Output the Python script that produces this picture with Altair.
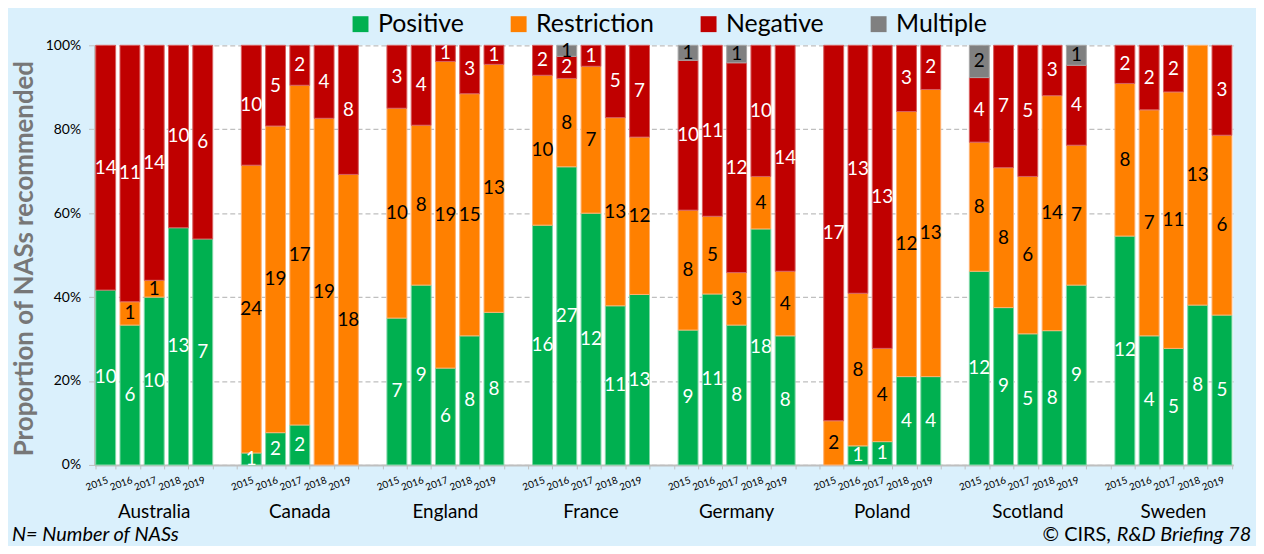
import altair as alt
import pandas as pd

countries = ["Australia", "Canada", "England", "France", "Germany", "Poland", "Scotland", "Sweden"]
years = ["2015", "2016", "2017", "2018", "2019"]
categories = ["Positive", "Restriction", "Negative", "Multiple"]
cat_colors = ["#00B050", "#FF8000", "#C00000", "#808080"]

positive = [
    [10, 6, 10, 13, 7],
    [1, 2, 2, 0, 0],
    [7, 9, 6, 8, 8],
    [16, 27, 12, 11, 13],
    [9, 11, 8, 18, 8],
    [0, 1, 1, 4, 4],
    [12, 9, 5, 8, 9],
    [12, 4, 5, 8, 5],
]
restriction = [
    [0, 1, 1, 0, 0],
    [24, 19, 17, 19, 18],
    [10, 8, 19, 15, 13],
    [10, 8, 7, 13, 12],
    [8, 5, 3, 4, 4],
    [2, 8, 4, 12, 13],
    [8, 8, 6, 14, 7],
    [8, 7, 11, 13, 6],
]
negative = [
    [14, 11, 14, 10, 6],
    [10, 5, 2, 4, 8],
    [3, 4, 1, 3, 1],
    [2, 2, 1, 5, 7],
    [10, 11, 12, 10, 14],
    [17, 13, 13, 3, 2],
    [4, 7, 5, 3, 4],
    [2, 2, 2, 0, 3],
]
multiple = [
    [0, 0, 0, 0, 0],
    [0, 0, 0, 0, 0],
    [0, 0, 0, 0, 0],
    [0, 1, 0, 0, 0],
    [1, 0, 1, 0, 0],
    [0, 0, 0, 0, 0],
    [2, 0, 0, 0, 1],
    [0, 0, 0, 0, 0],
]

series = {"Positive": positive, "Restriction": restriction, "Negative": negative, "Multiple": multiple}

rows = []
slots = []
for ci, c in enumerate(countries):
    for yi, y in enumerate(years):
        slot = f"{c}|{y}"
        slots.append(slot)
        for oi, cat in enumerate(categories):
            rows.append({"slot": slot, "country": c, "year": y, "cat": cat,
                         "ord": oi, "n": series[cat][ci][yi]})
    if ci < len(countries) - 1:
        slots.append(f"gap{ci}")
df = pd.DataFrame(rows)

FONT = "Lato"
xscale = alt.Scale(domain=slots, paddingInner=0.18, paddingOuter=0.05)
yscale = alt.Scale(domain=[0, 1])

base = alt.Chart(df).transform_joinaggregate(
    total="sum(n)", groupby=["slot"]
).transform_window(
    cum="sum(n)", sort=[alt.SortField("ord", order="ascending")],
    groupby=["slot"], frame=[None, 0]
).transform_calculate(
    y0="(datum.cum - datum.n) / datum.total",
    y1="datum.cum / datum.total",
    mid="(datum.cum - datum.n / 2) / datum.total",
    tc="(datum.cat == 'Restriction' || datum.cat == 'Multiple') ? 'black' : 'white'",
)

bars = base.transform_filter("datum.n > 0").mark_bar(strokeWidth=1).encode(
    x=alt.X("slot:N", scale=xscale, title=None, sort=None,
            axis=alt.Axis(labelExpr="indexof(datum.label, '|') >= 0 ? split(datum.label, '|')[1] : ''",
                          labelAngle=-20, labelAlign="right", labelBaseline="top",
                          labelFontSize=10, labelPadding=6, tickBand="extent", tickSize=4,
                          labelOverlap=False, labelBound=False, labelFlush=False,
                          domainColor="#BFBFBF", domainWidth=2, tickColor="#BFBFBF",
                          labelColor="black", labelFont=FONT, grid=False)),
    y=alt.Y("y0:Q", scale=yscale,
            axis=alt.Axis(format=".0%", values=[0, 0.2, 0.4, 0.6, 0.8, 1.0],
                          title="Proportion of NASs recommended",
                          titleFont=FONT, titleFontSize=26, titleFontWeight="bold",
                          titleColor="#777777", titleAngle=-90, titleX=-70, titleY=214,
                          titleAlign="center", titleBaseline="middle",
                          labelFont=FONT, labelFontSize=14, labelColor="black", labelPadding=8,
                          tickSize=6, tickColor="#BFBFBF", domainColor="#BFBFBF", domainWidth=2,
                          gridColor="#BFBFBF", gridDash=[5, 3], gridWidth=1.2)),
    y2="y1:Q",
    color=alt.Color("cat:N", scale=alt.Scale(domain=categories, range=cat_colors),
                    legend=alt.Legend(title=None, orient="none", direction="horizontal",
                                      legendX=255, legendY=-34, symbolType="square",
                                      symbolSize=256, symbolStrokeWidth=0, labelFont=FONT,
                                      labelFontSize=25, labelColor="black", labelOffset=5,
                                      labelLimit=300, columnPadding=42)),
    stroke=alt.Stroke("cat:N", scale=alt.Scale(domain=categories,
                                               range=["#7FD7A7", "#FFB070", "#D86060", "#A6A6A6"]),
                      legend=None),
)

labels = base.transform_filter("datum.n > 0").mark_text(font=FONT, fontSize=19, baseline="middle").encode(
    x=alt.X("slot:N", scale=xscale, sort=None, title=None),
    y=alt.Y("mid:Q", scale=yscale, title="Proportion of NASs recommended"),
    text=alt.Text("n:Q"),
    color=alt.Color("tc:N", scale=None),
)

country_labels = alt.Chart(df).transform_filter(
    "datum.year == '2017' && datum.cat == 'Positive'"
).mark_text(font=FONT, fontSize=19, baseline="middle", color="black").encode(
    x=alt.X("slot:N", scale=xscale, sort=None, title=None),
    y=alt.value(469),
    text="country:N",
)

note = alt.Chart(pd.DataFrame({"t": ["N= Number of NASs"]})).mark_text(
    font=FONT, fontSize=20, fontStyle="italic", align="left", baseline="middle", color="black").encode(
    x=alt.value(-83), y=alt.value(492), text="t:N")

cp1 = alt.Chart(pd.DataFrame({"t": ["© CIRS,"]})).mark_text(
    font=FONT, fontSize=20, align="right", baseline="middle", color="black").encode(
    x=alt.value(1022), y=alt.value(492), text="t:N")
cp2 = alt.Chart(pd.DataFrame({"t": ["R&D Briefing 78"]})).mark_text(
    font=FONT, fontSize=20, fontStyle="italic", align="left", baseline="middle", color="black").encode(
    x=alt.value(1028), y=alt.value(492), text="t:N")

chart = alt.layer(bars, labels, country_labels, note, cp1, cp2).properties(
    width=1145, height=422,
    autosize=alt.AutoSizeParams(type="none"),
    padding={"left": 87, "top": 36, "right": 23, "bottom": 80},
    background="#DAF0FC",
).configure_view(fill="white", stroke=None)

chart.save("out.html", embed_options={"renderer": "svg", "actions": False})
